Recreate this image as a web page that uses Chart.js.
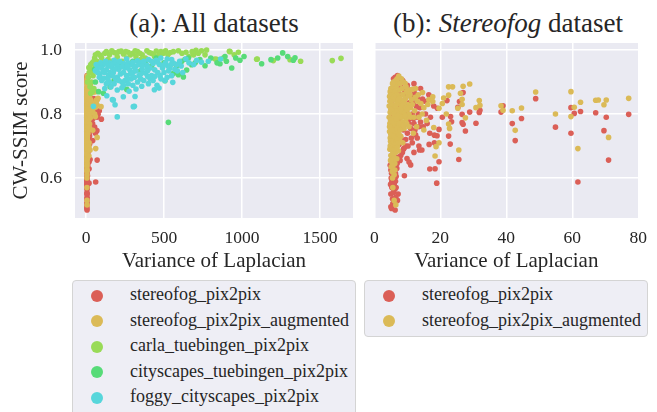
<!DOCTYPE html>
<html lang="en">
<head>
    <meta charset="UTF-8">
    <title>CW-SSIM vs Variance of Laplacian</title>
    <script src="https://cdn.jsdelivr.net/npm/chart.js"></script>
    <style>
        body { margin: 0; background: #fff; width: 657px; height: 412px; overflow: hidden; position: relative;
               font-family: 'Liberation Serif', 'Times New Roman', serif; color: #262626; }
        canvas { position: absolute; top: 0; }
        #chartA { left: 0; }
        #chartB { left: 360px; }
        .title { position: absolute; top: 7px; font-size: 27px; line-height: 32px; text-align: center; white-space: nowrap; }
        .legend { position: absolute; top: 280px; width: 284px; box-sizing: border-box; border: 1px solid #d4d4d4;
                  border-radius: 4px; background: #eeeef5; padding-top: 2px; }
        .row { height: 25.5px; position: relative; font-size: 18px; }
        .row span.dot { position: absolute; left: 17.7px; top: 6.75px; width: 12px; height: 12px; border-radius: 50%; }
        .row span.txt { position: absolute; left: 57px; top: 0; line-height: 23.5px; white-space: nowrap; }
    </style>
</head>
<body>

    <div class="title" style="left:104px; width:220px;">(a): All datasets</div>
    <div class="title" style="left:378px; width:260px;">(b): <i>Stereofog</i> dataset</div>

    <canvas id="chartA" width="360" height="280"></canvas>
    <canvas id="chartB" width="297" height="280"></canvas>

    <div class="legend" id="legendA" style="left:72px; height:140px;"></div>
    <div class="legend" id="legendB" style="left:364px; height:57px;"></div>

    <script>
        // series names and colours (seaborn hls)
        const seriesNames = ['stereofog_pix2pix', 'stereofog_pix2pix_augmented', 'carla_tuebingen_pix2pix',
                             'cityscapes_tuebingen_pix2pix', 'foggy_cityscapes_pix2pix'];
        const seriesColors = ['#db5f57', '#dbba57', '#99db57', '#57db78', '#57d6db'];

        const xTicksA = [0, 500, 1000, 1500];
        const xTicksB = [0, 20, 40, 60, 80];
        const yTicks = [0.6, 0.8, 1.0];

        // [variance of laplacian, cw-ssim]
        const stereofog = [
            [5.2,0.505],[6.3,0.50],[6.0,0.52],[6.5,0.54],[5.5,0.535],[5.0,0.55],[5.8,0.555],[6.2,0.565],[5.3,0.57],
            [4.9,0.58],[5.6,0.585],[6.0,0.595],[5.1,0.60],[5.7,0.61],[6.4,0.615],[5.0,0.625],[5.4,0.635],[6.1,0.64],
            [6.8,0.63],[7.2,0.55],[7.0,0.53],[9.1,0.607],
            [5.0,0.51],[5.6,0.52],[6.6,0.57],[6.0,0.58],[5.3,0.59],[6.4,0.59],[5.8,0.60],[5.2,0.615],[6.6,0.605],
            [4.8,0.64],[6.9,0.645],[7.8,0.655],[8.8,0.69],[9.5,0.70],[11.2,0.725],[10.5,0.77],[11.8,0.785],[12.3,0.75],
            [13.5,0.76],[9.8,0.805],[11.8,0.835],[13.3,0.80],[8.0,0.86],[9.5,0.855],[10.8,0.875],[8.6,0.905],[7.0,0.92],[5.8,0.91],
            [5.2,0.65],[6.0,0.66],[7.0,0.665],[8.0,0.67],[9.9,0.661],[11.0,0.641],[10.5,0.65],[9.0,0.693],[8.5,0.68],
            [6.5,0.69],[5.5,0.70],[7.5,0.705],[10.2,0.70],[12.0,0.68],[14.4,0.6875],[13.7,0.6875],[13.5,0.70],[11.5,0.71],
            [9.5,0.72],[8.0,0.725],[6.2,0.73],[5.0,0.74],[7.0,0.745],[10.0,0.74],[12.5,0.735],[13.0,0.725],[8.8,0.75],
            [11.0,0.755],[6.0,0.76],[9.0,0.765],[12.0,0.77],[14.0,0.775],[7.5,0.78],[10.5,0.785],[5.5,0.79],[8.5,0.795],
            [13.0,0.79],[6.8,0.80],[11.5,0.80],
            [9.5,0.81],[12.8,0.823],[7.8,0.82],[5.3,0.83],[10.5,0.835],[14.6,0.847],[8.5,0.84],[6.3,0.85],[11.0,0.855],
            [7.2,0.86],[9.2,0.87],[12.2,0.865],[5.8,0.875],[8.0,0.885],[10.0,0.89],[6.8,0.90],[7.5,0.91],[6.3,0.915],
            [15.5,0.80],[16.0,0.77],[14.8,0.76],[13.8,0.82],[15.2,0.84],[17.0,0.79],[13.0,0.85],[16.5,0.86],[14.0,0.88],[12.0,0.895],
            [16.8,0.74],[18.2,0.734],[19.0,0.732],[22.5,0.731],[18.2,0.71],[16.6,0.705],[23.0,0.706],[19.6,0.651],[16.8,0.628],
            [18.4,0.629],[18.9,0.584],[25.6,0.658],[18.0,0.825],[19.1,0.818],[22.0,0.842],[20.6,0.79],[23.1,0.792],
            [23.4,0.776],[19.6,0.752],[26.9,0.867],[25.8,0.839],[25.3,0.821],[26.6,0.799],[28.9,0.806],[26.6,0.773],
            [26.9,0.768],[27.6,0.747],[32.0,0.812],[31.8,0.805],[30.8,0.771],[39.0,0.826],[38.4,0.806],[41.8,0.77],
            [42.7,0.717],[44.6,0.786],[48.9,0.848],[54.9,0.759],[59.6,0.82],[60.6,0.802],[59.6,0.74],[62.5,0.808],
            [61.7,0.5875],[67.1,0.804],[70.3,0.79],[69.6,0.748],[71.0,0.656],[77.1,0.799],[85,0.81],[98,0.784]
        ];
        const stereofogAug = [
            [7.4,0.919],[6.5,0.905],[8.2,0.91],[7.0,0.895],[5.8,0.90],[9.3,0.896],[8.8,0.90],
            [5.0,0.88],[5.8,0.88],[6.6,0.885],[7.5,0.875],[8.4,0.88],[9.6,0.885],[10.5,0.875],[11.5,0.877],[12.5,0.88],
            [14.6,0.867],[4.8,0.87],[6.2,0.87],
            [4.6,0.855],[5.4,0.86],[6.3,0.845],[7.0,0.86],[7.8,0.85],[8.6,0.862],[9.4,0.848],[10.2,0.858],[11.2,0.845],
            [12.4,0.852],[13.3,0.86],[5.0,0.84],[6.8,0.84],[8.0,0.835],
            [4.5,0.825],[5.2,0.83],[6.0,0.82],[6.7,0.83],[7.4,0.815],[8.3,0.825],[9.2,0.815],[10.1,0.83],[11.0,0.82],
            [12.2,0.81],[14.1,0.833],[4.8,0.805],[5.7,0.81],[6.4,0.80],[7.8,0.80],[9.0,0.805],[10.5,0.80],
            [4.5,0.79],[5.3,0.785],[6.1,0.795],[6.9,0.78],[7.7,0.79],[8.5,0.775],[9.6,0.785],[4.7,0.77],[5.5,0.765],
            [6.4,0.77],[7.2,0.76],[8.1,0.765],[9.0,0.755],[5.0,0.755],[6.0,0.75],
            [4.6,0.745],[5.4,0.74],[6.3,0.735],[7.1,0.74],[8.0,0.73],[4.8,0.725],[5.7,0.72],[6.6,0.715],[7.6,0.72],
            [8.6,0.71],[5.1,0.705],[6.0,0.70],[7.0,0.70],
            [4.7,0.69],[5.5,0.685],[6.4,0.68],[7.3,0.685],[5.0,0.67],[5.9,0.665],[6.8,0.66],[5.3,0.65],[6.2,0.645],
            [5.1,0.635],[5.8,0.625],[6.0,0.61],[5.5,0.60],[6.5,0.516],[6.0,0.53],[5.6,0.57],
            [5.5,0.895],[6.9,0.91],[7.8,0.895],[4.9,0.86],[5.9,0.855],[7.3,0.845],[8.9,0.84],[9.8,0.87],[10.8,0.86],
            [5.5,0.845],[4.7,0.84],[6.5,0.825],[7.0,0.81],[8.0,0.815],[8.8,0.83],[9.6,0.82],[5.0,0.815],[5.9,0.80],
            [7.2,0.795],[8.3,0.79],[9.3,0.795],[4.9,0.78],[5.8,0.775],[6.6,0.785],[7.5,0.77],[8.7,0.765],[4.6,0.76],
            [5.3,0.75],[6.8,0.755],[7.8,0.75],[5.0,0.735],[5.9,0.73],[6.8,0.725],[7.5,0.735],[4.9,0.715],[5.5,0.71],
            [6.3,0.705],[7.3,0.71],[4.8,0.70],[5.3,0.695],[6.0,0.69],[6.8,0.695],[5.6,0.675],[6.2,0.66],[4.9,0.655],
            [5.6,0.64],[5.4,0.62],[6.2,0.625],[10.0,0.815],[11.5,0.83],[11.0,0.79],[12.0,0.79],[9.8,0.77],[10.5,0.76],
            [15.0,0.82],[13.5,0.79],[16.2,0.83],[14.5,0.80],[12.8,0.76],[15.8,0.78],[16.5,0.845],[13.0,0.84],[11.8,0.74],[15.0,0.75],
            [17.7,0.854],[17.7,0.839],[19.6,0.818],[20.6,0.833],[22.5,0.859],[21.0,0.85],[21.8,0.80],[22.5,0.769],
            [22.8,0.755],[18.0,0.758],[19.6,0.71],[18.7,0.698],[18.4,0.669],[25.6,0.6875],[22.5,0.885],[23.7,0.885],
            [26.9,0.887],[28.9,0.894],[26.1,0.865],[26.6,0.846],[26.6,0.83],[25.3,0.818],[27.6,0.788],[30.8,0.82],
            [31.8,0.842],[32.0,0.827],[38.4,0.826],[39.0,0.812],[41.8,0.81],[42.7,0.749],[44.6,0.819],[48.9,0.869],
            [59.6,0.87],[60.6,0.821],[59.6,0.792],[54.9,0.80],[62.5,0.837],[61.7,0.692],[67.1,0.843],[67.9,0.844],
            [70.3,0.844],[69.6,0.829],[71.0,0.727],[77.1,0.849],[96,0.823]
        ];
        const carla = [
            [40,0.96],[55,0.975],[90,0.984],[120,0.99],[150,0.985],[180,0.992],[210,0.995],[240,0.988],[270,0.993],
            [300,0.99],[330,0.995],[360,0.985],[390,0.998],[420,0.99],[450,0.997],[480,0.995],[510,0.998],[540,0.992],
            [592,0.998],[641,0.993],[705,0.999],[740,0.998],[773,1.0],[763,0.985],[827,0.972],[838,0.971],[919,0.996],
            [977,0.993],[923,0.995],[1094,0.971],[1098,0.972],[1308,0.97],[1201,0.967],[1376,0.965],[1579,0.967],[1635,0.974],
            [26,0.944],[20,0.93],[30,0.955],[15,0.915],[35,0.90],[45,0.92],[60,0.95],[25,0.885],[50,0.88],[40,0.87],[30,0.865],
            [100,0.975],[140,0.97],[200,0.978],[260,0.975],[320,0.98],[380,0.975],[440,0.98],[470,0.985],[350,0.97],
            [160,0.965],[230,0.965],[660,0.98],[690,0.985],[70,0.965],[110,0.96],
            [60,0.985],[75,0.99],[130,0.995],[165,0.998],[195,0.99],[225,0.997],[255,0.995],[285,0.985],[315,0.998],
            [345,0.99],[405,0.992],[435,0.985],[495,0.99],[525,0.985],[560,0.995],[615,0.99],[680,0.995],[720,0.99],
            [880,0.975],[950,0.985],[10,0.90],[35,0.935],[18,0.945],[50,0.965]
        ];
        const cityscapes = [
            [261,0.877],[111,0.865],[154,0.885],[560,0.927],[506,0.904],[645,0.9375],[635,0.971],[592,0.923],[624,0.916],
            [528,0.774],[614,0.965],[656,0.975],[677,0.954],[763,0.951],[859,0.957],[891,0.98],[934,0.944],[987,0.968],
            [1013,0.98],[1126,0.957],[1186,0.97],[1229,0.975],[1261,0.991],[1293,0.98],[1340,0.976],[1329,0.968],
            [700,0.96],[730,0.97],[800,0.975],[840,0.96],[900,0.965],[960,0.975],[580,0.95],[500,0.96],[450,0.975],
            [380,0.96],[300,0.965],[220,0.955],[350,0.935],[420,0.95],[180,0.905],[60,0.90],[80,0.87],[55,0.94]
        ];
        const foggy = [
            [180,0.968],[260,0.972],[330,0.966],[400,0.97],[450,0.968],[520,0.972],[560,0.959],[600,0.965],[640,0.972],
            [709,0.968],[784,0.965],[863,0.972],[549,0.97],[480,0.975],
            [110,0.955],[150,0.96],[200,0.952],[240,0.958],[290,0.955],[350,0.96],[390,0.952],[430,0.958],[470,0.955],
            [510,0.96],[538,0.944],[580,0.955],[80,0.948],[320,0.95],
            [70,0.94],[100,0.945],[130,0.938],[165,0.946],[210,0.94],[250,0.944],[280,0.938],[310,0.946],[360,0.94],
            [410,0.944],[440,0.938],[490,0.944],[530,0.935],[60,0.935],
            [90,0.925],[120,0.93],[145,0.92],[175,0.93],[220,0.925],[260,0.92],[300,0.93],[340,0.92],[380,0.928],
            [420,0.92],[460,0.93],[549,0.92],[442,0.918],[200,0.915],
            [100,0.905],[150,0.90],[190,0.91],[230,0.90],[250,0.905],[290,0.91],[330,0.90],[370,0.905],[410,0.91],
            [506,0.905],[556,0.899],[130,0.895],[270,0.895],
            [160,0.885],[200,0.875],[276,0.871],[357,0.887],[438,0.876],[468,0.881],[120,0.88],[230,0.882],[320,0.878],
            [133,0.857],[169,0.845],[186,0.829],[200,0.791],[314,0.855],[310,0.824],[175,0.844],[239,0.854],[303,0.823],[47,0.824],
            [95,0.96],[125,0.965],[140,0.95],[170,0.955],[190,0.962],[215,0.965],[230,0.948],[270,0.96],[300,0.962],
            [340,0.955],[370,0.965],[395,0.945],[420,0.965],[460,0.962],[495,0.952],[525,0.95],[570,0.94],[610,0.95],
            [660,0.96],[690,0.955],[740,0.962],[620,0.93],[585,0.935],[500,0.93],[475,0.92],[395,0.935],[350,0.925],
            [320,0.935],[285,0.925],[240,0.93],[185,0.94],[155,0.93],[110,0.935],[85,0.915],[115,0.912],[170,0.92],
            [210,0.905],[265,0.91],[310,0.915],[350,0.91],[395,0.918],[430,0.905],[480,0.91],[520,0.915],[140,0.91],
            [180,0.895],[240,0.89],[300,0.89],[400,0.895],[455,0.89],[75,0.93],[65,0.955],[545,0.955],[360,0.95],[265,0.95]
        ];

        const allSeries = [stereofog, stereofogAug, carla, cityscapes, foggy];

        Chart.defaults.font.family = "'Liberation Serif', 'Times New Roman', serif";
        Chart.defaults.color = '#262626';

        // grey axes background like seaborn darkgrid
        const bgPlugin = {
            id: 'bg',
            beforeDraw(chart) {
                const a = chart.chartArea, c = chart.ctx;
                c.save();
                c.fillStyle = '#eaeaf2';
                c.fillRect(a.left, a.top, a.right - a.left, a.bottom - a.top);
                c.restore();
            }
        };

        function makeDatasets(count) {
            const out = [];
            for (let i = 0; i < count; i++) {
                out.push({
                    label: seriesNames[i],
                    data: allSeries[i].map(p => ({ x: p[0], y: p[1] })),
                    backgroundColor: seriesColors[i],
                    borderWidth: 0,
                    pointRadius: 2.8,
                    order: 10 - i
                });
            }
            return out;
        }

        function makeOptions(xMin, xMax, xTicks, showY, pad) {
            return {
                responsive: false,
                animation: false,
                events: [],
                layout: { padding: pad },
                plugins: { legend: { display: false }, tooltip: { enabled: false } },
                scales: {
                    x: {
                        type: 'linear', min: xMin, max: xMax,
                        afterBuildTicks: s => { s.ticks = xTicks.map(v => ({ value: v })); },
                        afterFit: s => { s.height = 62; },
                        grid: { color: '#ffffff', lineWidth: 1.5, drawTicks: false },
                        border: { display: false },
                        ticks: { padding: 10, font: { size: 17.5 }, maxRotation: 0, callback: v => String(v) },
                        title: { display: true, text: 'Variance of Laplacian', font: { size: 21 }, padding: { top: 0, bottom: 6 } }
                    },
                    y: {
                        type: 'linear', min: 0.475, max: 1.022,
                        afterBuildTicks: s => { s.ticks = yTicks.map(v => ({ value: v })); },
                        afterFit: s => { s.width = showY ? 75 : 0; },
                        grid: { color: '#ffffff', lineWidth: 1.5, drawTicks: false },
                        border: { display: false },
                        ticks: { display: showY, padding: 13, font: { size: 17.5 }, callback: v => v.toFixed(1) },
                        title: { display: showY, text: 'CW-SSIM score', font: { size: 21 }, padding: { top: 9, bottom: 0 } }
                    }
                }
            };
        }

        new Chart(document.getElementById('chartA'), {
            type: 'scatter',
            data: { datasets: makeDatasets(5) },
            options: makeOptions(-71, 1712, xTicksA, true, { top: 43, right: 7, left: 0, bottom: 0 }),
            plugins: [bgPlugin]
        });

        new Chart(document.getElementById('chartB'), {
            type: 'scatter',
            data: { datasets: makeDatasets(2) },
            options: makeOptions(0, 80, xTicksB, false, { top: 43, right: 9, left: 8, bottom: 0 }),
            plugins: [bgPlugin]
        });

        // legends below each panel
        function buildLegend(id, count) {
            const box = document.getElementById(id);
            for (let i = 0; i < count; i++) {
                const row = document.createElement('div');
                row.className = 'row';
                row.innerHTML = '<span class="dot" style="background:' + seriesColors[i] + '"></span>' +
                                '<span class="txt">' + seriesNames[i] + '</span>';
                box.appendChild(row);
            }
        }
        buildLegend('legendA', 5);
        buildLegend('legendB', 2);
    </script>

</body>
</html>
